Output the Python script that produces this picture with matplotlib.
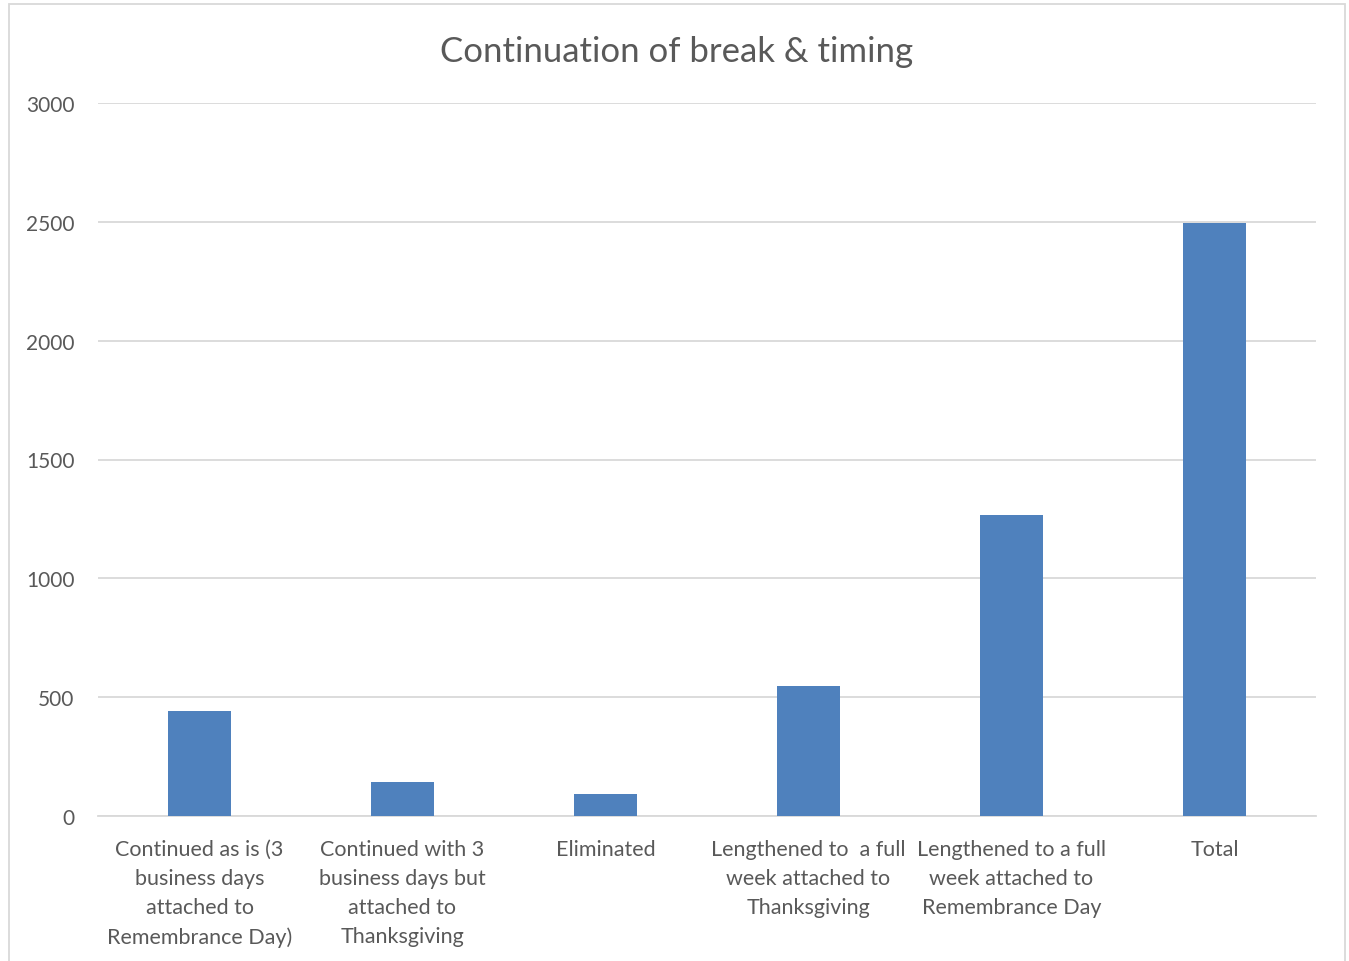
import numpy as np
import matplotlib.pyplot as plt
from matplotlib.patches import Rectangle

categories = [
    'Continued as is (3\nbusiness days\nattached to\nRemembrance Day)',
    'Continued with 3\nbusiness days but\nattached to\nThanksgiving',
    'Eliminated',
    'Lengthened to  a full\nweek attached to\nThanksgiving',
    'Lengthened to a full\nweek attached to\nRemembrance Day',
    'Total',
]
responses = [443, 141, 94, 549, 1268, 2495]
y_ticks = [0, 500, 1000, 1500, 2000, 2500, 3000]

text_color = '#595959'
bar_color = '#4f81bd'
grid_color = '#d9d9d9'

plt.rcParams['font.family'] = ['Lato', 'DejaVu Sans']

fig = plt.figure(figsize=(13.49, 9.62), dpi=100)
ax = fig.add_axes([98 / 1349, 1 - 817 / 962, 1218 / 1349, 713 / 962])

x = np.arange(len(categories))
ax.bar(x, responses, width=0.315, color=bar_color, zorder=3)

ax.set_xlim(-0.5, len(categories) - 0.5)
ax.set_ylim(0, 3000)
ax.set_yticks(y_ticks)
ax.set_yticklabels([str(t) for t in y_ticks], fontsize=15, color=text_color)
ax.set_xticks(x)
ax.set_xticklabels(categories, fontsize=15.5, color=text_color, linespacing=1.56, va='top')
ax.tick_params(axis='both', length=0)
ax.tick_params(axis='y', pad=17)
ax.tick_params(axis='x', pad=16.5)

ax.grid(axis='y', color=grid_color, linewidth=1.3, zorder=0)
for side in ['top', 'left', 'right']:
    ax.spines[side].set_visible(False)
ax.spines['bottom'].set_color(grid_color)
ax.spines['bottom'].set_linewidth(1.3)

fig.text(677 / 1349, 1 - 52 / 962, 'Continuation of break & timing', ha='center', va='center',
         fontsize=25, color=text_color)

# chart area border
fig.patches.append(Rectangle((9 / 1349, -0.01), 1336 / 1349, 1 - 5 / 962 + 0.01,
                             transform=fig.transFigure, fill=False,
                             edgecolor='#d9d9d9', linewidth=1.3))

fig.savefig('out.png', dpi=100)
